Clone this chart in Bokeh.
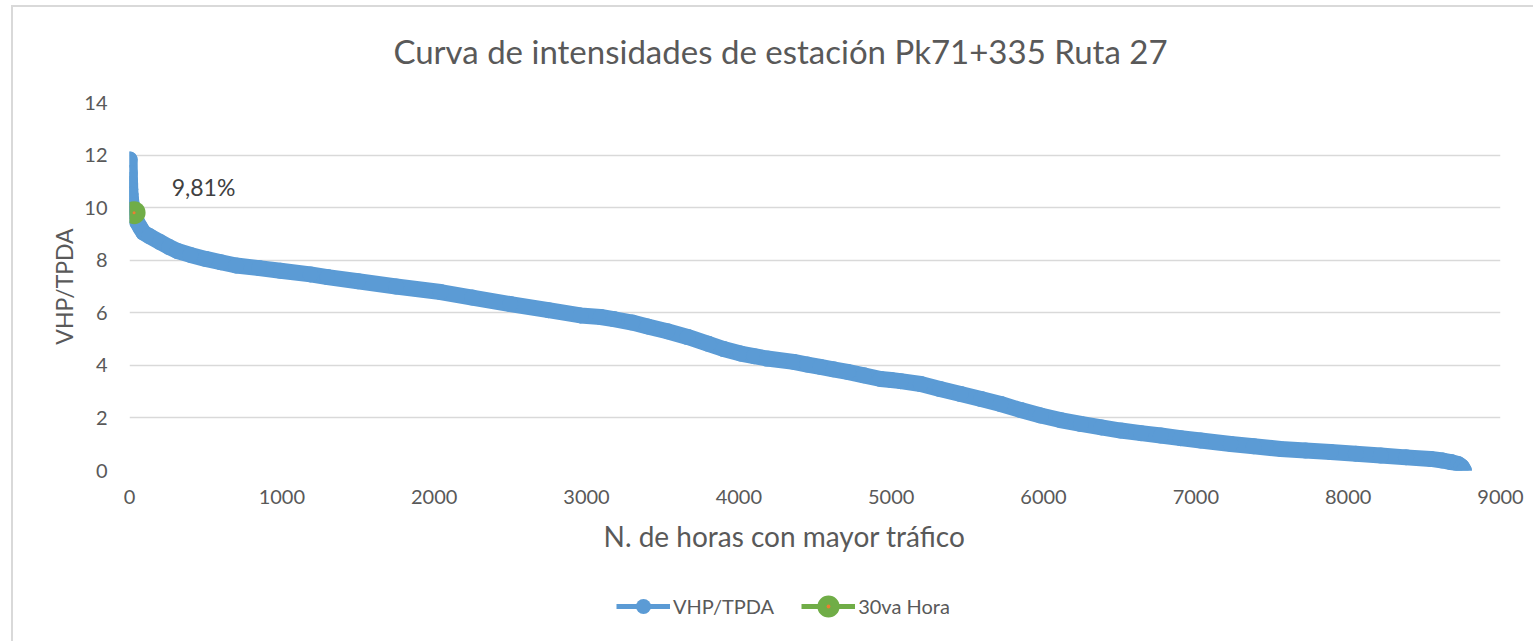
from bokeh.plotting import figure
from bokeh.layouts import column
from bokeh.models import (Range1d, Label, Legend, LegendItem, Title, ColumnDataSource,
                          FixedTicker)
from bokeh.embed import file_html
from bokeh.resources import INLINE

# ---------------- data ----------------
title_text = "Curva de intensidades de estación Pk71+335 Ruta 27"
x_label = "N. de horas con mayor tráfico"
y_label = "VHP/TPDA"
series_names = ["VHP/TPDA", "30va Hora"]

hours = [1, 2, 3, 4, 5, 7, 10, 15, 20, 30, 50, 70, 92, 130, 200, 260, 315, 400, 500,
         600, 700, 850, 991, 1188, 1300, 1500, 1750, 2042, 2250, 2500, 2750, 2961, 3093,
         3178, 3300, 3401, 3530, 3664, 3800, 3900, 4012, 4100, 4186, 4360, 4450, 4535,
         4620, 4714, 4820, 4931, 5000, 5062, 5194, 5320, 5456, 5590, 5719, 5850, 5982,
         6110, 6245, 6380, 6507, 6640, 6770, 6900, 7032, 7229, 7380, 7557, 7720, 7885,
         8050, 8214, 8380, 8542, 8620, 8674, 8720, 8745, 8760]
vhp_tpda = [11.83, 11.32, 11.05, 10.90, 10.70, 10.50, 10.30, 10.10, 9.98, 9.81, 9.45, 9.25,
            9.05, 8.92, 8.69, 8.50, 8.35, 8.20, 8.05, 7.92, 7.80, 7.70, 7.60, 7.46, 7.36,
            7.20, 7.00, 6.79, 6.58, 6.33, 6.10, 5.90, 5.84, 5.76, 5.63, 5.48, 5.30, 5.08,
            4.82, 4.62, 4.45, 4.35, 4.26, 4.13, 4.03, 3.94, 3.85, 3.75, 3.62, 3.48, 3.44,
            3.40, 3.29, 3.10, 2.91, 2.72, 2.53, 2.30, 2.09, 1.92, 1.77, 1.64, 1.52, 1.42,
            1.33, 1.23, 1.14, 1.01, 0.92, 0.82, 0.76, 0.70, 0.64, 0.57, 0.50, 0.44, 0.38,
            0.32, 0.25, 0.15, 0.00]

hour30_x = [30]
hour30_y = [9.81]
hour30_label = "9,81%"

x_ticks = [0, 1000, 2000, 3000, 4000, 5000, 6000, 7000, 8000, 9000]
y_ticks = [0, 2, 4, 6, 8, 10, 12, 14]

# ---------------- styling ----------------
BLUE = "#5B9BD5"
GREEN = "#70AD47"
ORANGE = "#ED7D31"
GREY_TXT = "#595959"
FONT = "Lato"

W = 1520


def bare_strip(h):
    f = figure(width=W, height=h, x_range=Range1d(0, 1), y_range=Range1d(0, 1),
               output_backend="svg", toolbar_location=None, title_location=None,
               min_border_left=0, min_border_right=0, min_border_top=0,
               min_border_bottom=0)
    f.axis.visible = False
    f.grid.visible = False
    f.outline_line_color = None
    f.border_fill_color = "white"
    return f


# ---------------- title strip ----------------
TH = 83
pt = bare_strip(TH)
pt.add_layout(Label(x=651, y=40, x_units="screen", y_units="screen", text=title_text,
                    text_align="center", text_baseline="middle", text_font=FONT,
                    text_font_size="33px", text_color=GREY_TXT))

# ---------------- main chart ----------------
p = figure(width=W, height=568 - TH,
           x_range=Range1d(0, 9000), y_range=Range1d(0, 14),
           output_backend="svg", toolbar_location=None, title_location=None,
           min_border_left=116, min_border_right=33,
           min_border_top=12, min_border_bottom=105)
p.outline_line_color = None
p.background_fill_color = "white"
p.border_fill_color = "white"

for ax in (p.xaxis[0], p.yaxis[0]):
    ax.axis_line_color = None
    ax.major_tick_line_color = None
    ax.minor_tick_line_color = None
    ax.major_tick_out = 0
    ax.major_tick_in = 0
    ax.minor_tick_out = 0
    ax.minor_tick_in = 0
    ax.major_label_text_font = FONT
    ax.major_label_text_font_size = "20px"
    ax.major_label_text_color = GREY_TXT

p.xaxis[0].ticker = FixedTicker(ticks=x_ticks)
p.yaxis[0].ticker = FixedTicker(ticks=y_ticks)
p.xaxis[0].major_label_standoff = 19
p.yaxis[0].major_label_standoff = 22

p.yaxis[0].axis_label = y_label
p.yaxis[0].axis_label_text_font = FONT
p.yaxis[0].axis_label_text_font_size = "23px"
p.yaxis[0].axis_label_text_font_style = "normal"
p.yaxis[0].axis_label_text_color = GREY_TXT
p.yaxis[0].axis_label_standoff = 3

p.xgrid.grid_line_color = None
p.ygrid.grid_line_color = "#d9d9d9"
p.ygrid.grid_line_width = 1.5

xlab = Title(text=x_label, text_font=FONT, text_font_size="28px",
             text_font_style="normal", text_color=GREY_TXT, align="left",
             offset=474, standoff=20)
p.add_layout(xlab, "below")

src = ColumnDataSource(dict(x=hours, y=vhp_tpda))
p.line("x", "y", source=src, line_color=BLUE, line_width=16,
       line_join="round", line_cap="round")
p.scatter("x", "y", source=src, size=16, fill_color=BLUE, line_color=None)

p.scatter(hour30_x, hour30_y, size=23, fill_color=GREEN, line_color=None)
p.scatter(hour30_x, hour30_y, size=3, fill_color=ORANGE, line_color=None)

p.add_layout(Label(x=486, y=10.8, text=hour30_label, text_align="center",
                   text_baseline="middle", text_font=FONT, text_font_size="23px",
                   text_color="#404040", background_fill_color="white"))

# ---------------- legend strip ----------------
LH = 66
pl = bare_strip(LH)

nan = [float("nan")]
lb = pl.line(nan, nan, line_color=BLUE, line_width=5)
mb = pl.scatter(nan, nan, fill_color=BLUE, line_color=None)
lg = pl.line(nan, nan, line_color=GREEN, line_width=5)
mg = pl.scatter(nan, nan, fill_color=GREEN, line_color=GREEN, line_width=7)
mo = pl.scatter(nan, nan, marker="dot", fill_color=ORANGE, line_color=ORANGE)

legend = Legend(items=[LegendItem(label=series_names[0], renderers=[lb, mb]),
                       LegendItem(label=series_names[1], renderers=[lg, mg, mo])],
                orientation="horizontal", location=(487, 16),
                glyph_width=54, glyph_height=38, label_standoff=3, spacing=27,
                padding=0, margin=0,
                label_text_font=FONT, label_text_font_size="20px",
                label_text_color=GREY_TXT,
                border_line_color=None, background_fill_alpha=0)
pl.add_layout(legend, "center")

layout = column(pt, p, pl, spacing=0, margin=(5, 0, 0, 11),
                styles={"border-left": "2px solid #d9d9d9",
                        "border-top": "2px solid #d9d9d9"})

open("out.html", "w").write(file_html(layout, INLINE))
